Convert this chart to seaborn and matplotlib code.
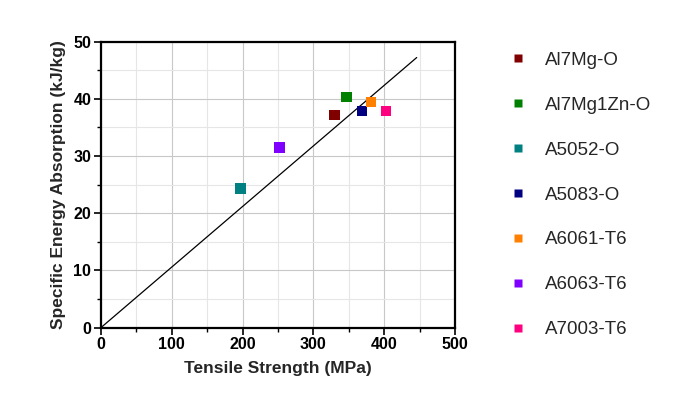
import matplotlib
matplotlib.use("Agg")
import matplotlib.pyplot as plt
import seaborn as sns
import pandas as pd
import numpy as np
from matplotlib.ticker import MultipleLocator

sns.set_style("white")
plt.rcParams['font.family'] = ['Liberation Sans', 'DejaVu Sans']

alloys = ["Al7Mg-O", "Al7Mg1Zn-O", "A5052-O", "A5083-O", "A6061-T6", "A6063-T6", "A7003-T6"]
tensile = [330, 347, 197, 369, 381, 252, 403]
sea = [37.2, 40.3, 24.3, 37.8, 39.4, 31.5, 37.9]
colors = ["#800000", "#008000", "#008080", "#000080", "#FF8000", "#8000FF", "#FF0080"]
line_x = [0, 446]
line_y = [0, 47.2]

df = pd.DataFrame({"alloy": alloys, "ts": tensile, "sea": sea})

fig = plt.figure(figsize=(6.73, 4.03), dpi=100)
ax = fig.add_axes([0.150, 0.187, 0.526, 0.710])

ax.plot(line_x, line_y, color="black", lw=0.9, zorder=2)
sns.scatterplot(data=df, x="ts", y="sea", hue="alloy", palette=colors,
                marker="s", s=55, edgecolor="none", ax=ax, zorder=3)

ax.set_xlim(0, 500)
ax.set_ylim(0, 50)
ax.xaxis.set_major_locator(MultipleLocator(100))
ax.xaxis.set_minor_locator(MultipleLocator(50))
ax.yaxis.set_major_locator(MultipleLocator(10))
ax.yaxis.set_minor_locator(MultipleLocator(5))
ax.grid(which="major", color="#c8c8c8", lw=0.8)
ax.grid(which="minor", color="#e6e6e6", lw=0.8)
ax.set_axisbelow(True)
for sp in ax.spines.values():
    sp.set_color("black")
    sp.set_linewidth(1.6)
ax.tick_params(which="major", direction="out", length=5, width=1.2, colors="black",
               labelsize=11.5, left=True, bottom=True, pad=2)
ax.tick_params(which="minor", direction="out", length=3, width=1.0, colors="black",
               left=True, bottom=True)
for lab in ax.get_xticklabels() + ax.get_yticklabels():
    lab.set_fontweight("bold")
ax.set_xlabel("Tensile Strength (MPa)", fontsize=12.5, fontweight="bold", labelpad=6)
ax.set_ylabel("Specific Energy Absorption (kJ/kg)", fontsize=12.5, fontweight="bold", labelpad=5)

handles, labels = ax.get_legend_handles_labels()
leg = ax.legend(handles, labels, loc="upper left", bbox_to_anchor=(1.107, 0.99),
                frameon=False, fontsize=13.5, labelspacing=1.48, handletextpad=0.5,
                handlelength=1.88, markerscale=0.85, borderaxespad=0)

fig.savefig("out.png", dpi=100)
